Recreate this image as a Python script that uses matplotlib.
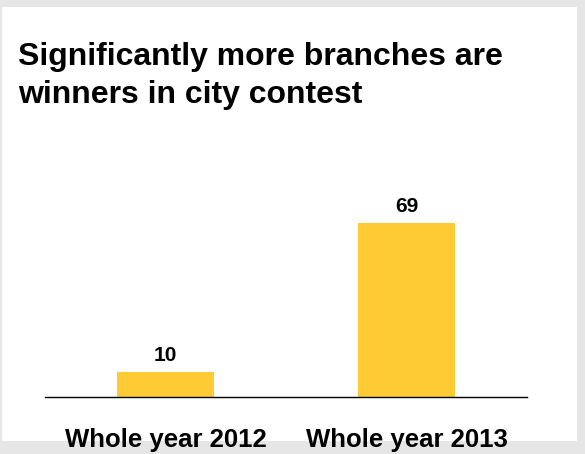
import matplotlib
matplotlib.use("Agg")
import matplotlib.pyplot as plt
from matplotlib.patches import Rectangle

categories = ["Whole year 2012", "Whole year 2013"]
values = [10, 69]

BAR = "#FECB34"
W, H = 585, 454

plt.rcParams["font.family"] = ["Liberation Sans", "DejaVu Sans"]

fig = plt.figure(figsize=(W / 100, H / 100), dpi=100, facecolor="#e6e6e6")

# white card behind the chart
fig.patches.append(Rectangle((2 / W, 1 - 441 / H), 575 / W, 434 / H,
                             transform=fig.transFigure, facecolor="white",
                             edgecolor="none", zorder=-1))

fig.text(18 / W, 1 - 102.7 / H, "Significantly more branches are\nwinners in city contest",
         fontsize=23, fontweight="bold", ha="left", va="baseline",
         linespacing=1.34, color="black", zorder=2)

ax = fig.add_axes([45 / W, 1 - 397 / H, 482 / W, 217 / H], zorder=1)
ax.set_facecolor("none")
x = range(len(values))
ax.bar(x, values, width=0.4, color=BAR, zorder=2)
ax.set_xlim(-0.5, 1.5)
ax.set_ylim(0, 217 / 2.52)

for xi, v in zip(x, values):
    ax.annotate(str(v), (xi, v), xytext=(0, 11), textcoords="offset pixels",
                ha="center", va="baseline", fontsize=15, fontweight="bold")

for s in ["top", "right", "left"]:
    ax.spines[s].set_visible(False)
ax.spines["bottom"].set_linewidth(1.0)
ax.spines["bottom"].set_color("black")
ax.set_yticks([])
ax.set_xticks(list(x))
ax.set_xticklabels(categories, fontsize=18.5, fontweight="bold")
ax.tick_params(axis="x", length=0, pad=22)

fig.savefig("out.png", dpi=100, facecolor=fig.get_facecolor())
